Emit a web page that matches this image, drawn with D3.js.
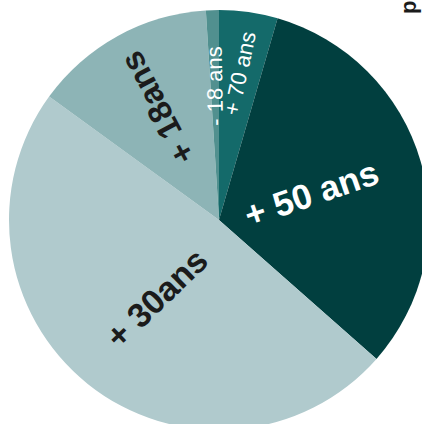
<!DOCTYPE html>
<html>
<head>
<meta charset="utf-8">
<script src="https://cdn.jsdelivr.net/npm/d3@7"></script>
<style>
  html, body { margin: 0; padding: 0; background: #fff; }
  svg { display: block; }
</style>
</head>
<body>
<svg width="422" height="424"></svg>
<script>
// slices, clockwise from 12 o'clock
const categories = ["+ 70 ans", "+ 50 ans", "+ 30ans", "+ 18ans", "- 18 ans"];
const shares = [4.5, 32, 48.5, 14, 1];
const colors = ["#146a6a", "#013f3f", "#b0cacd", "#8db4b6", "#51908f"];

// label placement: distance from centre, rotation, look
const labelStyle = {
  "+ 70 ans": { r: 148, rot: -78, size: 22, weight: "normal", fill: "#fff" },
  "+ 50 ans": { r: 96, rot: -19, size: 35, weight: "bold", fill: "#fff" },
  "+ 30ans": { r: 100, rot: -44, size: 34, weight: "bold", fill: "#1b1b1b" },
  "+ 18ans": { r: 128, rot: -118, size: 33, weight: "bold", fill: "#1b1b1b" },
  "- 18 ans": { r: 134, rot: -91, size: 22, weight: "normal", fill: "#fff" }
};

const svg = d3.select("svg"),
  cx = 219, cy = 220, radius = 210;

const pie = d3.pie().sort(null).value(d => d.value);
const arc = d3.arc().innerRadius(0).outerRadius(radius);

const data = categories.map((c, i) => ({ name: c, value: shares[i], color: colors[i] }));
const arcs = pie(data);

const g = svg.append("g").attr("transform", `translate(${cx},${cy})`);

g.selectAll("path")
  .data(arcs)
  .enter().append("path")
  .attr("d", arc)
  .attr("fill", d => d.data.color);

g.selectAll("text")
  .data(arcs)
  .enter().append("text")
  .attr("transform", d => {
    const s = labelStyle[d.data.name];
    const a = (d.startAngle + d.endAngle) / 2;
    const x = s.r * Math.sin(a), y = -s.r * Math.cos(a);
    return `translate(${x},${y}) rotate(${s.rot})`;
  })
  .attr("text-anchor", "middle")
  .attr("dominant-baseline", "central")
  .attr("font-family", "Liberation Sans, Arial, sans-serif")
  .attr("font-size", d => labelStyle[d.data.name].size)
  .attr("font-weight", d => labelStyle[d.data.name].weight)
  .attr("fill", d => labelStyle[d.data.name].fill)
  .text(d => d.data.name);

// clipped vertical caption at the right edge
svg.append("text")
  .attr("transform", "translate(416,14) rotate(-90)")
  .attr("font-family", "Liberation Sans, Arial, sans-serif")
  .attr("font-size", 22)
  .attr("font-weight", "bold")
  .attr("fill", "#1b1b1b")
  .text("p");
</script>
</body>
</html>
